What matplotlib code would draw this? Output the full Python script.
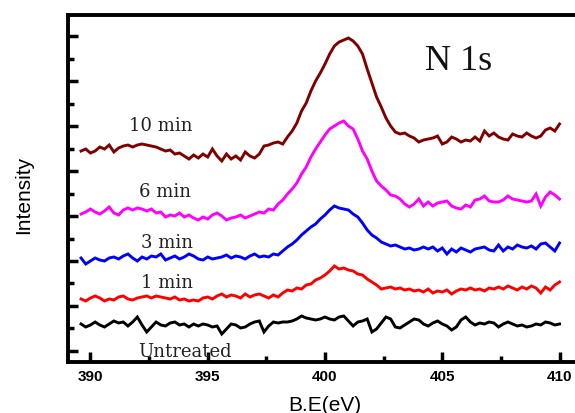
import numpy as np
import matplotlib
matplotlib.use("Agg")
import matplotlib.pyplot as plt
from matplotlib.ticker import MultipleLocator

# Binding energy grid (eV), 0.2 eV steps from 389.6 to 410.0
energy = np.linspace(389.6, 410.0, 103)

# Intensities (a.u.), stacked spectra
int_10min = [211, 213, 209, 211, 215, 213, 217, 210, 214, 216,
             217, 215, 217, 218, 217, 216, 215, 213, 211, 212,
             208, 209, 206, 203, 207, 204, 208, 205, 213, 206,
             201, 208, 203, 206, 202, 210, 206, 204, 208, 216,
             217, 219, 220, 218, 225, 231, 239, 251, 259, 271,
             281, 289, 298, 308, 316, 320, 322, 324, 321, 316,
             308, 293, 279, 265, 255, 244, 236, 230, 228, 229,
             226, 224, 220, 222, 223, 224, 226, 218, 220, 225,
             223, 220, 222, 221, 225, 221, 231, 226, 229, 225,
             223, 222, 228, 226, 225, 229, 226, 224, 226, 232,
             234, 231, 238]
int_6min = [148, 150, 153, 150, 148, 151, 155, 149, 147, 152,
            154, 152, 154, 153, 151, 153, 149, 150, 145, 147,
            146, 149, 145, 147, 144, 142, 145, 143, 147, 149,
            146, 142, 144, 145, 147, 144, 146, 148, 150, 149,
            153, 152, 158, 162, 168, 173, 179, 188, 195, 205,
            213, 220, 227, 233, 236, 239, 241, 236, 233, 223,
            211, 203, 191, 181, 176, 172, 167, 166, 163, 158,
            155, 158, 163, 156, 160, 156, 159, 160, 161, 156,
            154, 153, 157, 155, 162, 163, 166, 161, 160, 160,
            162, 166, 163, 162, 161, 160, 161, 168, 156, 165,
            170, 167, 163]
int_3min = [104, 98, 101, 104, 102, 101, 104, 105, 103, 106,
            108, 104, 101, 105, 103, 106, 105, 108, 102, 104,
            106, 103, 105, 108, 106, 103, 102, 105, 103, 104,
            105, 107, 104, 106, 105, 103, 106, 108, 105, 106,
            105, 108, 107, 111, 115, 118, 122, 127, 131, 135,
            138, 143, 147, 152, 156, 154, 153, 152, 148, 145,
            139, 132, 127, 124, 120, 118, 116, 117, 115, 113,
            114, 112, 113, 115, 113, 115, 111, 114, 108, 113,
            110, 114, 112, 110, 113, 114, 115, 112, 111, 117,
            111, 115, 113, 117, 115, 114, 116, 113, 118, 119,
            115, 111, 119]
int_1min = [63, 61, 64, 66, 64, 61, 63, 62, 65, 66,
            63, 62, 64, 65, 66, 64, 66, 65, 64, 63,
            65, 62, 63, 61, 62, 61, 64, 65, 63, 66,
            68, 65, 67, 66, 64, 68, 65, 67, 68, 66,
            64, 67, 65, 69, 72, 71, 74, 73, 77, 78,
            82, 84, 87, 91, 96, 93, 94, 92, 91, 88,
            87, 83, 80, 77, 73, 74, 75, 73, 74, 72,
            73, 71, 72, 70, 73, 69, 71, 70, 72, 68,
            71, 73, 72, 74, 72, 73, 71, 74, 73, 75,
            73, 76, 74, 72, 75, 73, 76, 74, 69, 75,
            72, 77, 80]
int_untreated = [38, 35, 37, 40, 37, 35, 38, 41, 39, 40,
                 36, 40, 45, 37, 30, 35, 40, 37, 36, 39,
                 40, 37, 38, 35, 38, 36, 38, 37, 35, 36,
                 28, 33, 38, 37, 34, 35, 38, 40, 41, 30,
                 36, 40, 39, 40, 40, 41, 43, 46, 44, 43,
                 42, 43, 45, 43, 42, 45, 46, 41, 36, 40,
                 41, 43, 30, 33, 39, 45, 43, 35, 34, 37,
                 40, 43, 42, 38, 36, 39, 41, 38, 36, 32,
                 35, 42, 45, 40, 37, 39, 38, 40, 39, 35,
                 38, 40, 38, 36, 37, 35, 36, 38, 37, 40,
                 39, 37, 38]

series = [
    ("10 min", int_10min, "#800000", (393.01, 232)),
    ("6 min", int_6min, "#ff00ff", (393.16, 166)),
    ("3 min", int_3min, "#0000ff", (393.28, 115)),
    ("1 min", int_1min, "#ff0000", (393.28, 75)),
    ("Untreated", int_untreated, "#000000", (394.03, 6)),
]

fig = plt.figure(figsize=(5.75, 4.14), dpi=100)
ax = fig.add_axes([0.1177, 0.1225, 0.8823, 0.8395])

for name, vals, color, (lx, ly) in series:
    ax.plot(energy, vals, color=color, lw=2.1, solid_joinstyle="miter")
    ax.text(lx, ly, name, ha="center", va="baseline",
            fontsize=13, family="DejaVu Serif", color="#222222")

ax.text(405.71, 293, "N 1s", ha="center", va="baseline",
        fontsize=26, family="Liberation Serif", color="#111111")

ax.set_xlim(389.03, 410.66)
ax.set_ylim(-0.3, 347.3)

ax.xaxis.set_major_locator(MultipleLocator(5))
ax.xaxis.set_minor_locator(MultipleLocator(2.5))
ax.yaxis.set_major_locator(MultipleLocator(45, offset=11))
ax.yaxis.set_minor_locator(MultipleLocator(22.5, offset=11))

ax.tick_params(axis="both", which="major", direction="in", length=7, width=2.5)
ax.tick_params(axis="both", which="minor", direction="in", length=4, width=2.5)
ax.tick_params(axis="y", which="both", labelleft=False, right=False)
ax.tick_params(axis="x", which="both", top=False, pad=5)
for lab in ax.get_xticklabels():
    lab.set_fontweight("bold")
    lab.set_fontfamily("Liberation Sans")
    lab.set_fontsize(11)

for side in ("left", "bottom", "top"):
    ax.spines[side].set_linewidth(2.8)
ax.spines["right"].set_visible(False)

ax.set_xlabel("B.E(eV)", fontsize=15, family="Liberation Sans")
ax.xaxis.set_label_coords(0.507, -0.093)
ax.set_ylabel("Intensity", fontsize=15, family="Liberation Sans")
ax.yaxis.set_label_coords(-0.068, 0.484)

fig.savefig("out.png", dpi=100)
